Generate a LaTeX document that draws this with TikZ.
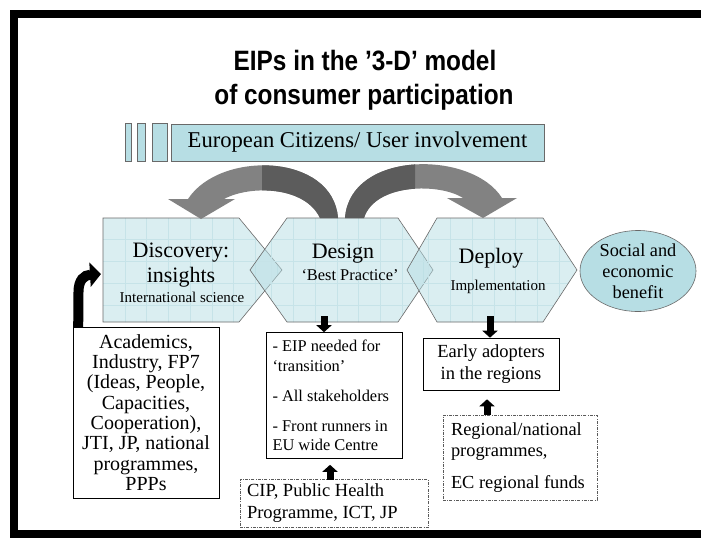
\documentclass[tikz,border=0pt]{standalone}
\usepackage{fontspec}
\setmainfont{Liberation Serif}
\newfontfamily\titlefont{Liberation Sans}
\usetikzlibrary{arrows.meta,shapes.geometric,calc}
\definecolor{teal1}{RGB}{183,222,228}
\definecolor{gridc}{RGB}{198,227,232}
\definecolor{hexline}{RGB}{105,105,105}
\definecolor{arrlight}{RGB}{130,130,130}
\definecolor{arrdark}{RGB}{92,92,92}
\definecolor{dashc}{RGB}{90,90,90}
\tikzset{
  plainbox/.style={draw=black, line width=0.6pt, inner sep=0pt},
  dashbox/.style={draw=dashc, line width=0.7pt, dash pattern=on 3pt off 1.3pt on 0.8pt off 1.3pt, inner sep=0pt},
  blockarrow/.style={draw=black, line width=7pt, -{Triangle[width=15pt,length=7pt]}},
  gridline/.style={draw=gridc, line width=0.5pt},
  hexborder/.style={draw=hexline, line width=0.6pt},
  hexfill/.style={fill=teal1, fill opacity=0.5},
  txt/.style={inner sep=0pt, anchor=base},
}
\def\hexA{(103,218) -- (239,218) -- (282,270) -- (239,322) -- (103,322) -- cycle}
\def\hexB{(250,270) -- (287,218) -- (398,218) -- (433,270) -- (398,322) -- (287,322) -- cycle}
\def\hexC{(407,270) -- (437,218) -- (543,218) -- (577,270) -- (543,322) -- (437,322) -- cycle}
\def\arrL{(338,218) .. controls (333,153) and (220,150) .. (188,199) -- (168,199) -- (201,219) -- (235,199) -- (224,199) .. controls (250,185) and (305,186) .. (320,218) -- cycle}
\def\arrR{(345,218) .. controls (350,150) and (472,150) .. (502,198) -- (517,198) -- (483,218) -- (447,198) -- (463,198) .. controls (440,183) and (375,183) .. (364,218) -- cycle}
\begin{document}
\begin{tikzpicture}[x=1pt,y=-1pt]
\useasboundingbox (0,0) rectangle (701,541);
\fill[white] (0,0) rectangle (701,541);
% frame
\fill[black] (10,10) rectangle (701,18);
\fill[black] (10,10) rectangle (18,538);
\fill[black] (10,530) rectangle (701,538);
% title
\node[txt, font=\titlefont\bfseries\fontsize{28}{32}\selectfont] (title1) at (365,70) {\scalebox{0.87}[1]{EIPs in the ’3-D’ model}};
\node[txt, font=\titlefont\bfseries\fontsize{28}{32}\selectfont] (title2) at (364,104) {\scalebox{0.87}[1]{of consumer participation}};
% banner
\node[draw=hexline, line width=0.6pt, fill=teal1, minimum width=6pt, minimum height=38pt, inner sep=0pt] (s1) at (128,142) {};
\node[draw=hexline, line width=0.6pt, fill=teal1, minimum width=8pt, minimum height=38pt, inner sep=0pt] (s2) at (141,142) {};
\node[draw=hexline, line width=0.6pt, fill=teal1, minimum width=15pt, minimum height=38pt, inner sep=0pt] (s3) at (159.5,142) {};
\node[draw=hexline, line width=0.6pt, fill=teal1, minimum width=373pt, minimum height=37pt, inner sep=0pt, font=\fontsize{22.6}{26}\selectfont] (banner) at (357.5,142.5) {European Citizens/ User involvement};
% hexagons
\path[hexfill] \hexA;
\begin{scope}
  \clip \hexA;
  \foreach \gx in {125,146.7,168.4,190.1,211.8,233.5,255.2,276.9}
    \draw[gridline] (\gx,210) -- (\gx,330);
  \foreach \gy in {239.7,261.4,283.1,304.8}
    \draw[gridline] (95,\gy) -- (290,\gy);
\end{scope}
\draw[hexborder] \hexA;
\path[hexfill] \hexB;
\begin{scope}
  \clip \hexB;
  \foreach \gx in {271.7,293.4,315.1,336.8,358.5,380.2,401.9,423.6}
    \draw[gridline] (\gx,210) -- (\gx,330);
  \foreach \gy in {239.7,261.4,283.1,304.8}
    \draw[gridline] (245,\gy) -- (440,\gy);
\end{scope}
\draw[hexborder] \hexB;
\path[hexfill] \hexC;
\begin{scope}
  \clip \hexC;
  \foreach \gx in {428.7,450.4,472.1,493.8,515.5,537.2,558.9}
    \draw[gridline] (\gx,210) -- (\gx,330);
  \foreach \gy in {239.7,261.4,283.1,304.8}
    \draw[gridline] (400,\gy) -- (585,\gy);
\end{scope}
\draw[hexborder] \hexC;
% curved gray arrows
\fill[arrlight] \arrL;
\begin{scope}
  \clip (262,140) rectangle (345,225);
  \fill[arrdark] \arrL;
\end{scope}
\fill[arrlight] \arrR;
\begin{scope}
  \clip (340,140) rectangle (415,225);
  \fill[arrdark] \arrR;
\end{scope}
% hexagon texts
\node[txt, font=\fontsize{22}{25}\selectfont] (disc1) at (181,257) {Discovery:};
\node[txt, font=\fontsize{22}{25}\selectfont] (disc2) at (181,282) {insights};
\node[txt, font=\fontsize{15}{17}\selectfont] (disc3) at (182,302) {International science};
\node[txt, font=\fontsize{22}{25}\selectfont] (des1) at (343,258) {Design};
\node[txt, font=\fontsize{16.4}{19}\selectfont] (des2) at (350,280) {‘Best Practice’};
\node[txt, font=\fontsize{22}{25}\selectfont] (dep1) at (491,263) {Deploy};
\node[txt, font=\fontsize{15}{17}\selectfont] (dep2) at (498,290) {Implementation};
% outcome
\node[ellipse, draw=hexline, line width=0.6pt, fill=teal1, minimum width=116pt, minimum height=81pt, inner sep=0pt, align=flush center, font=\fontsize{18.3}{21}\selectfont] (social) at (638,271) {Social and\\economic\\benefit};
% boxes
\node[plainbox, minimum width=146pt, minimum height=171pt, align=flush center, font=\fontsize{20}{20.3}\selectfont] (acad) at (146,412.5) {Academics,\\Industry, FP7\\(Ideas, People,\\Capacities,\\Cooperation),\\JTI, JP, national\\programmes,\\PPPs};
\node[plainbox, minimum width=136pt, minimum height=126pt, text width=124pt, align=flush left, font=\fontsize{16.4}{19.5}\selectfont] (eip) at (334.5,395.5) {- EIP needed for\\‘transition’\\[10.5pt]- All stakeholders\\[10.5pt]- Front runners in\\EU wide Centre};
\node[dashbox, minimum width=188pt, minimum height=48pt, text width=174pt, align=flush left, font=\fontsize{18.5}{22}\selectfont] (cip) at (334,503.5) {CIP, Public Health\\Programme, ICT, JP};
\node[plainbox, minimum width=136pt, minimum height=52pt, align=flush center, font=\fontsize{18.5}{22}\selectfont] (early) at (491,364) {Early adopters\\in the regions};
\node[dashbox, minimum width=154pt, minimum height=85pt, text width=138pt, align=flush left, font=\fontsize{18.4}{21}\selectfont] (regional) at (520,457.5) {Regional/national\\programmes,\\[11pt]EC regional funds};
% block arrows
\coordinate (desbot) at (324,316);
\coordinate (depbot) at (490,316);
\coordinate (cipa) at (330,479.5);
\coordinate (rega) at (487,415);
\draw[blockarrow] (desbot) -- (desbot |- eip.north);
\draw[blockarrow] (depbot) -- (depbot |- early.north);
\draw[blockarrow, shorten >=6pt] (cipa) -- (cipa |- eip.south);
\draw[blockarrow, shorten >=9pt] (rega) -- (rega |- early.south);
% curved black arrow
\draw[line width=10pt, -{Triangle[width=24pt,length=11pt]}] ($(acad.north west)+(5.5,0.5)$) -- (78.5,292) .. controls (78.5,280) and (84,275) .. (101,274);
\end{tikzpicture}
\end{document}
